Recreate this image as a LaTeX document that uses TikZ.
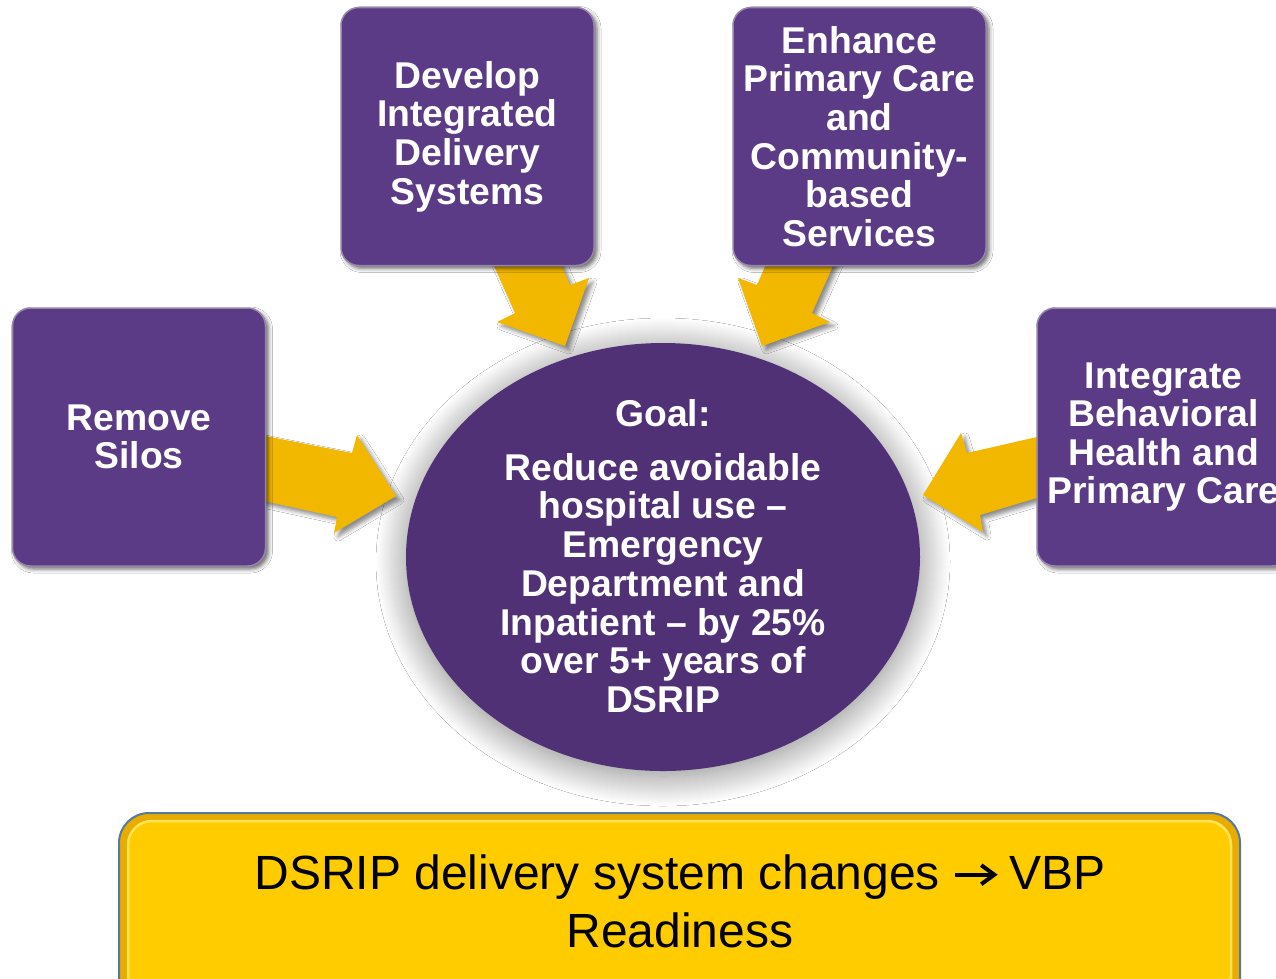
\documentclass[tikz,border=0pt]{standalone}
\usepackage{fontspec}
\setmainfont{Liberation Sans}
\usetikzlibrary{shadows.blur,shapes.geometric}
\definecolor{boxpurple}{RGB}{91,58,134}
\definecolor{boxedge}{RGB}{150,135,170}
\definecolor{ellpurple}{RGB}{80,49,118}
\definecolor{arrowyellow}{RGB}{242,184,0}
\definecolor{goldface}{RGB}{255,204,0}
\definecolor{goldrim}{RGB}{232,172,0}
\definecolor{goldlight}{RGB}{255,228,90}
\definecolor{goldborder}{RGB}{84,122,158}
\tikzset{
  pbox/.style={rectangle, rounded corners=18pt, fill=boxpurple, draw=boxedge, line width=1.5pt,
    minimum width=253pt, minimum height=258pt, inner sep=0pt, align=center, text=white,
    font=\bfseries\fontsize{37.3}{38.6}\selectfont,
    blur shadow={shadow xshift=3pt, shadow yshift=-3pt, shadow blur radius=4pt, shadow opacity=60}},
  yarrow/.style={fill=arrowyellow,
    blur shadow={shadow xshift=4pt, shadow yshift=-4pt, shadow blur radius=4pt, shadow opacity=45}},
  goaltext/.style={align=center, text=white, font=\bfseries\fontsize{37.3}{38.7}\selectfont, inner sep=0pt}
}
\newcommand{\chevarrow}{\tikz[baseline=0pt,x=1pt,y=1pt]{\path (-2,0) (41,0);
  \draw[line width=4pt, line cap=butt] (0,14.5) -- (38,14.5);
  \draw[line width=4pt, line cap=butt, line join=miter] (26,24) -- (39,14.5) -- (26,5);}}
\begin{document}
\begin{tikzpicture}[x=1pt,y=-1pt]
\clip (0,0) rectangle (1276,978);
\fill[white] (0,0) rectangle (1276,978);

% central goal ellipse with halo
\node[ellipse, fill=ellpurple, minimum width=514pt, minimum height=428pt, inner sep=0pt,
  blur shadow={shadow xshift=0pt, shadow yshift=-5pt, shadow scale=1.0, shadow blur radius=30pt,
    shadow blur steps=30, shadow opacity=48}]
  (goal) at (663,557) {};
\node[goaltext] (goalhead) at (663,413) {Goal:};
\node[goaltext] (goalbody) at (663,583) {Reduce avoidable\\hospital use --\\Emergency\\Department and\\Inpatient -- by 25\%\\over 5+ years of\\DSRIP};

% block arrows
\fill[yarrow] (250,433) -- (352,453) -- (357,435) -- (396,496) -- (334,533) -- (337,517) -- (250,498) -- cycle;
\fill[yarrow] (1050,434) -- (967,453) -- (961,433) -- (923,495) -- (983,532) -- (980,515) -- (1050,494) -- cycle;
\fill[yarrow] (487,250) -- (515,313) -- (497,322) -- (565,346) -- (589,278) -- (570,285) -- (555,250) -- cycle;
\fill[yarrow] (840,250) -- (812,313) -- (830,322) -- (762,346) -- (738,278) -- (757,285) -- (772,250) -- cycle;

% purple boxes
\node[pbox] (dids) at (467.5,136.5) {Develop\\Integrated\\Delivery\\Systems};
\node[pbox] (epc) at (859.5,136.5) {Enhance\\Primary Care\\and\\Community-\\based\\Services};
\node[pbox] (silos) at (139,437) {Remove\\Silos};
\node[pbox] (ibh) at (1163.5,437) {Integrate\\Behavioral\\Health and\\Primary Care};

% bottom gold banner
\draw[fill=goldrim, draw=goldborder, line width=2pt, rounded corners=30pt] (119,813) rectangle (1240,1010);
\draw[fill=goldface, draw=goldlight, line width=2.5pt, rounded corners=24pt] (128,821) rectangle (1231,1002);
\node[align=center, inner sep=0pt, font=\fontsize{48}{58}\selectfont] (vbp) at (680,901)
  {DSRIP delivery system changes \chevarrow{} VBP\\Readiness};
\end{tikzpicture}
\end{document}
